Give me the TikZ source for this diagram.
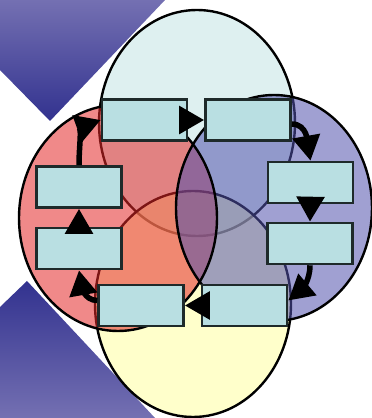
\documentclass[tikz,border=0pt]{standalone}
\usetikzlibrary{arrows.meta}
\definecolor{boxfill}{RGB}{185,223,226}
\definecolor{boxline}{RGB}{30,42,42}
\definecolor{tealblob}{RGB}{195,228,228}
\definecolor{sunblob}{RGB}{255,255,160}
\definecolor{redblob}{RGB}{228,40,40}
\definecolor{blueblob}{RGB}{82,82,173}
\definecolor{navylight}{RGB}{116,112,178}
\definecolor{navydark}{RGB}{50,50,143}
\tikzset{
  box/.style={draw=boxline, line width=2.6pt, fill=boxfill, minimum width=85pt, minimum height=41pt, inner sep=0pt},
  arr/.style={line width=5.5pt, -{Triangle[length=25pt,width=27pt]}},
  blob/.style={line width=2.4pt, fill opacity=0.55},
}

\begin{document}
\begin{tikzpicture}[x=1pt, y=1pt]
\useasboundingbox (0,0) rectangle (372,418);

% corner chevrons
\shade[top color=navylight, bottom color=navydark] (0,418) -- (165,418) -- (50,297) -- (0,348) -- cycle;
\shade[top color=navydark, bottom color=navylight] (0,111) -- (27,137) -- (155,0) -- (0,0) -- cycle;

% four overlapping circles
\filldraw[blob, fill=tealblob] (197,295) ellipse [x radius=98, y radius=113];
\filldraw[blob, fill=sunblob] (193,114) ellipse [x radius=98, y radius=113];
\fill[blob, fill=redblob] (118,200) ellipse [x radius=99, y radius=113];
\fill[blob, fill=blueblob] (274,210) ellipse [x radius=98, y radius=113];
\draw[line width=2.4pt] (118,200) ellipse [x radius=99, y radius=113];
\draw[line width=2.4pt] (274,210) ellipse [x radius=98, y radius=113];

% steps
\node[box] (b1) at (144.5,298) {};
\node[box] (b2) at (248,298) {};
\node[box] (b3) at (310.5,235.5) {};
\node[box] (b4) at (310,174.5) {};
\node[box] (b5) at (244.5,112.5) {};
\node[box] (b6) at (141,112.5) {};
\node[box] (b7) at (79,169.5) {};
\node[box] (b8) at (79,231) {};

% cycle
\draw[arr] ([xshift=-9pt]b1.east) -- (b2.west);
\draw[arr] ([yshift=-4pt]b2.east) to[out=0, in=100] (b3.north);
\draw[arr] ([yshift=7pt]b3.south) -- (b4.north);
\draw[arr] (b4.south) to[out=-90, in=40] ([yshift=5pt]b5.east);
\draw[arr] ([xshift=9pt]b5.west) -- (b6.east);
\draw[arr] ([yshift=5pt]b6.west) to[out=180, in=-80] (b7.south);
\draw[arr] ([yshift=-7pt]b7.north) -- (b8.south);
\draw[arr] (b8.north) to[out=90, in=200] (b1.west);

\end{tikzpicture}
\end{document}
